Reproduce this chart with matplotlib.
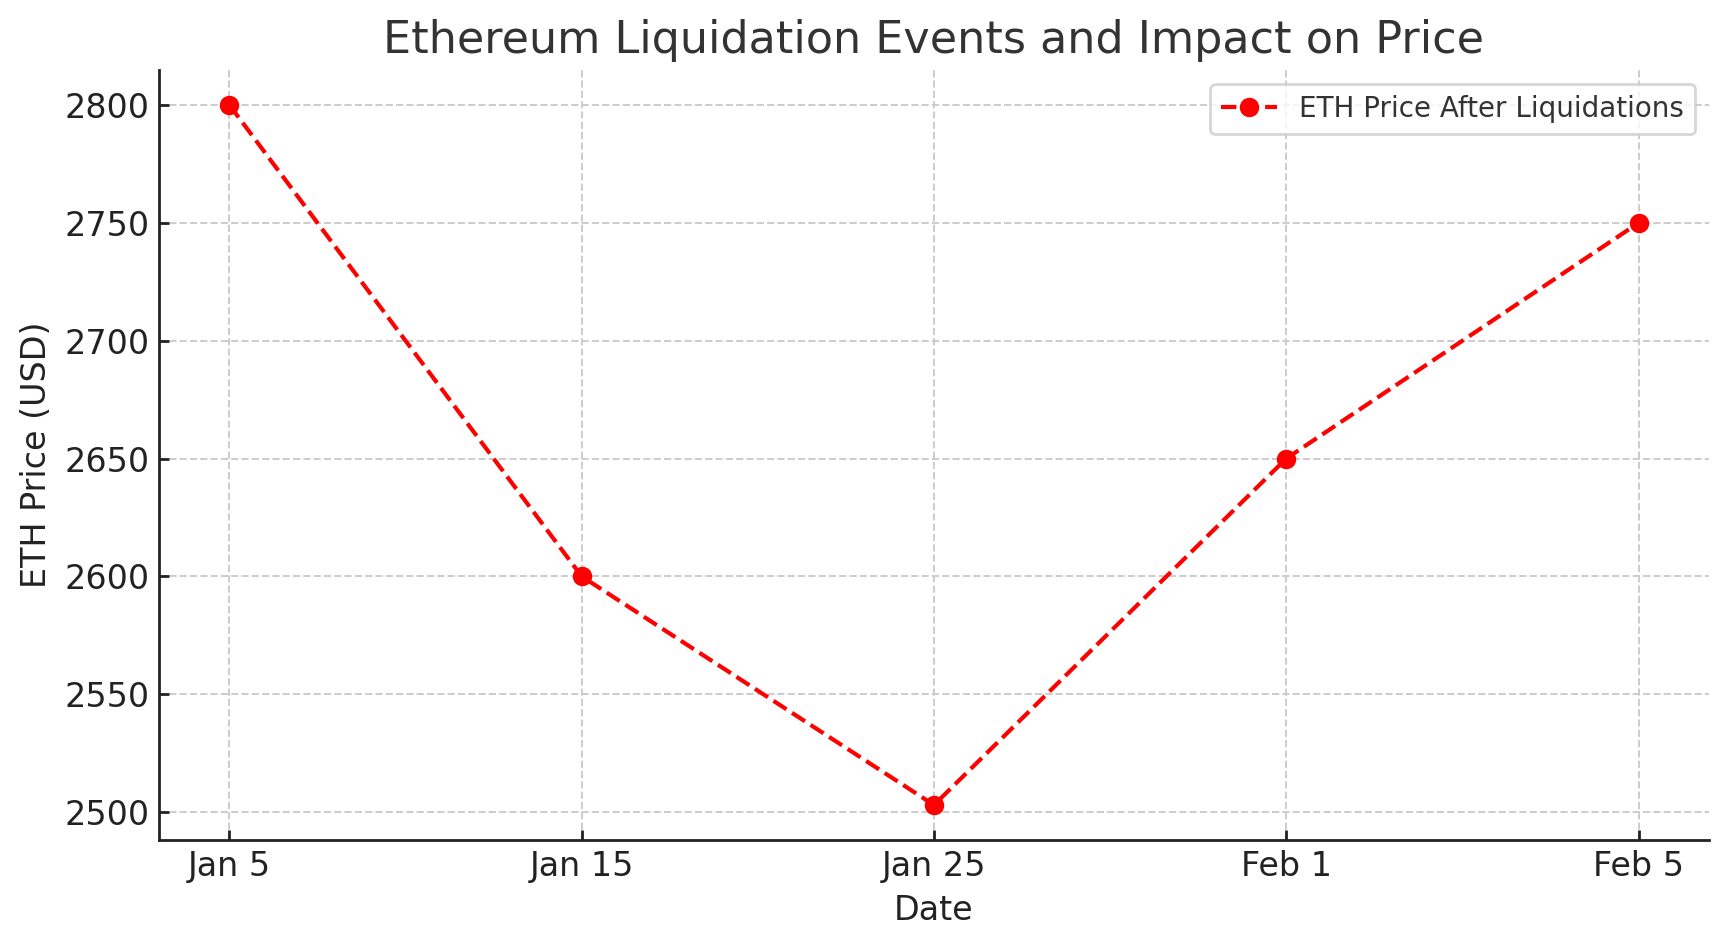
import matplotlib
matplotlib.use("Agg")
import matplotlib.pyplot as plt

dates = ["Jan 5", "Jan 15", "Jan 25", "Feb 1", "Feb 5"]
prices = [2800, 2600, 2503, 2650, 2750]

fig, ax = plt.subplots(figsize=(8.64, 4.735), dpi=200)
x = list(range(len(dates)))
ax.plot(x, prices, color="red", linestyle="--", marker="o", linewidth=1.5,
        markersize=6, label="ETH Price After Liquidations")
ax.set_xticks(x)
ax.set_xticklabels(dates)
ax.set_title("Ethereum Liquidation Events and Impact on Price", fontsize=16, color="#333333")
ax.set_xlabel("Date", fontsize=12, color="#222222")
ax.set_ylabel("ETH Price (USD)", fontsize=12, color="#222222")
ax.tick_params(labelsize=12, colors="#222222", direction="in", width=1.0)
ax.grid(True, linestyle="--", color="#cccccc", linewidth=0.7)
ax.spines["top"].set_visible(False)
ax.spines["right"].set_visible(False)
for s in ("left", "bottom"):
    ax.spines[s].set_color("#222222")
    ax.spines[s].set_linewidth(1.0)
leg = ax.legend(fontsize=10, loc="upper right")
for t in leg.get_texts():
    t.set_color("#333333")
fig.subplots_adjust(left=0.092, right=0.989, top=0.926, bottom=0.113)
fig.savefig("out.png", dpi=200)
